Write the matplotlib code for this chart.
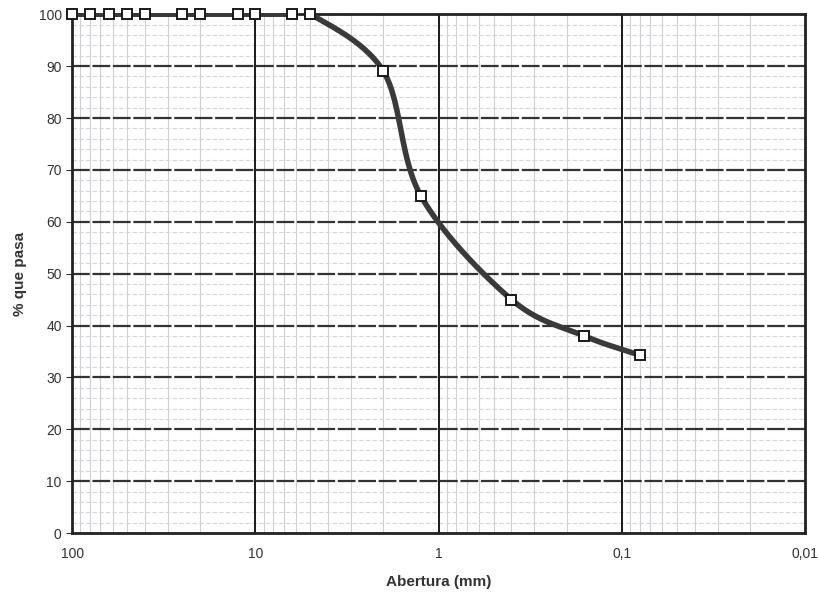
import numpy as np
import matplotlib.pyplot as plt
from matplotlib.ticker import FixedLocator, LogLocator, MultipleLocator, NullFormatter

plt.rcParams['font.family'] = ['Liberation Sans', 'DejaVu Sans']

# sieve openings (mm) and percent passing
abertura = [100, 80, 63, 50, 40, 25, 20, 12.5, 10, 6.3, 5, 2, 1.25, 0.4, 0.16, 0.08]
pasa = [100, 100, 100, 100, 100, 100, 100, 100, 100, 100, 100, 89, 65, 45, 38, 34.3]

x_ticks = [100, 10, 1, 0.1, 0.01]
x_labels = ['100', '10', '1', '0,1', '0,01']


def smooth(xs, ys, n=30):
    # Catmull-Rom through the points in (log x, y), like Excel's smoothed line
    lx = np.log10(xs)
    ys = np.asarray(ys, float)
    px = np.concatenate([[2 * lx[0] - lx[1]], lx, [2 * lx[-1] - lx[-2]]])
    py = np.concatenate([[2 * ys[0] - ys[1]], ys, [2 * ys[-1] - ys[-2]]])
    ox, oy = [], []
    t = np.linspace(0, 1, n)
    for i in range(1, len(px) - 2):
        for p, out in ((px, ox), (py, oy)):
            p0, p1, p2, p3 = p[i - 1], p[i], p[i + 1], p[i + 2]
            out.extend(0.5 * (2 * p1 + (-p0 + p2) * t
                              + (2 * p0 - 5 * p1 + 4 * p2 - p3) * t ** 2
                              + (-p0 + 3 * p1 - 3 * p2 + p3) * t ** 3))
    return 10 ** np.array(ox), np.array(oy)


fig = plt.figure(figsize=(8.19, 5.93), dpi=100)
ax = fig.add_axes([0.088, 0.101, 0.895, 0.875])

ax.set_xscale('log')
ax.set_xlim(100, 0.01)
ax.set_ylim(0, 100)

ax.xaxis.set_major_locator(FixedLocator(x_ticks))
ax.set_xticklabels(x_labels)
ax.xaxis.set_minor_locator(LogLocator(base=10, subs=np.arange(2, 10)))
ax.xaxis.set_minor_formatter(NullFormatter())
ax.yaxis.set_major_locator(MultipleLocator(10))
ax.yaxis.set_minor_locator(MultipleLocator(2))

# light minor grid first, underneath the major lines
xmin_locs = [v for v in ax.xaxis.get_minorticklocs() if 0.01 < v < 100]
ymin_locs = [v for v in ax.yaxis.get_minorticklocs() if 0 < v < 100 and v % 10]
ax.vlines(xmin_locs, 0, 100, color='#cfcfd4', lw=0.8, zorder=0.2)
ax.hlines(ymin_locs, 100, 0.01, color='#d6d6da', lw=0.8, ls=(0, (4, 2)), zorder=0.2)
ax.hlines(np.arange(10, 100, 10), 100, 0.01, color='#333333', lw=1.6,
          ls=(0, (8, 1.2)), zorder=0.4)
ax.vlines([10, 1, 0.1], 0, 100, color='#1a1a1a', lw=1.4, zorder=0.5)

sx, sy = smooth(abertura, pasa)
ax.plot(sx, sy, color='#3a3a3a', lw=4, solid_capstyle='round', zorder=3)
ax.plot(abertura, pasa, ls='none', marker='s', ms=7, mfc='white',
        mec='#1a1a1a', mew=1.4, zorder=4, clip_on=False)

for s in ax.spines.values():
    s.set_linewidth(2)
    s.set_color('#222222')

ax.tick_params(axis='x', which='both', length=0, labelsize=10, pad=10, colors='#333333')
ax.tick_params(axis='y', which='major', length=4, labelsize=10, colors='#333333')
ax.tick_params(axis='y', which='minor', length=0)

ax.set_xlabel('Abertura (mm)', fontsize=11, fontweight='bold', color='#333333', labelpad=10)
ax.set_ylabel('% que pasa', fontsize=11, fontweight='bold', color='#333333', labelpad=8)

fig.savefig('out.png', dpi=100)
